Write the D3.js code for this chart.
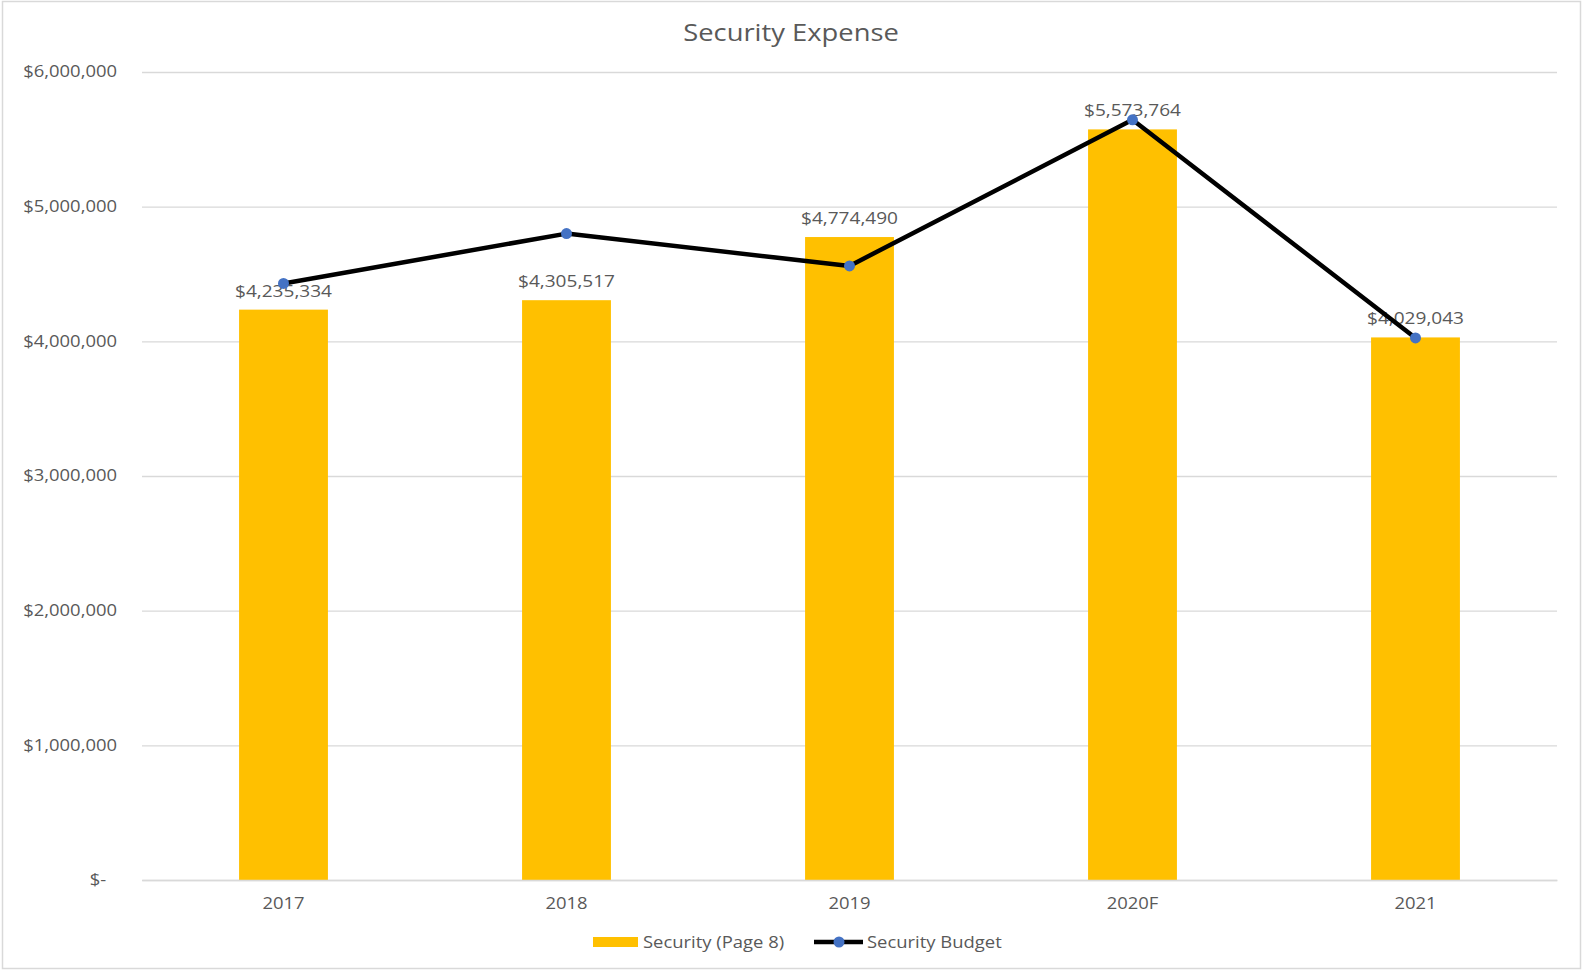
<!DOCTYPE html>
<html>
<head>
<meta charset="utf-8">
<script src="https://cdn.jsdelivr.net/npm/d3@7"></script>
<style>
  html, body { margin: 0; padding: 0; background: #fff; }
  svg { display: block; font-family: "Open Sans", "Noto Sans", sans-serif; }
</style>
</head>
<body>
<svg id="chart" width="1583" height="973"></svg>
<script>
// Security expense by year, with the budget line on top
const categories = ["2017", "2018", "2019", "2020F", "2021"];
const expenseValues = [4235334, 4305517, 4774490, 5573764, 4029043];
const budgetValues = [4430000, 4800000, 4560000, 5645000, 4025000];
const yTicks = [0, 1000000, 2000000, 3000000, 4000000, 5000000, 6000000];
const seriesNames = ["Security (Page 8)", "Security Budget"];

const W = 1583, H = 973;
const margin = { left: 142, right: 26, top: 72, bottom: 93 };
const svg = d3.select("#chart");
const textColor = "#595959";
const SX = 1.19; // horizontal widening of the label type

// widen text horizontally around its anchor point
function widen(sel) {
  sel.each(function () {
    const t = d3.select(this);
    const tx = +t.attr("x") || 0, ty = +t.attr("y") || 0;
    t.attr("x", 0).attr("y", 0)
      .attr("transform", `translate(${tx},${ty}) scale(${SX},1)`);
  });
}

// outer chart frame
svg.append("rect")
  .attr("x", 2.5).attr("y", 1.5)
  .attr("width", 1578).attr("height", 967)
  .attr("fill", "#fff").attr("stroke", "#d9d9d9").attr("stroke-width", 1.5);

const x = d3.scaleBand()
  .domain(categories)
  .range([margin.left, W - margin.right])
  .paddingInner(0.686).paddingOuter(0.343);

const y = d3.scaleLinear()
  .domain([0, 6000000])
  .range([H - margin.bottom, margin.top]);

// title
svg.append("text")
  .attr("x", 791).attr("y", 41)
  .attr("text-anchor", "middle")
  .attr("font-size", 23)
  .attr("fill", textColor)
  .text("Security Expense")
  .call(widen);

// horizontal gridlines + y labels
const fmtMoney = d3.format("$,.0f");
const yAxis = d3.axisLeft(y)
  .tickValues(yTicks)
  .tickSize(-(W - margin.left - margin.right))
  .tickPadding(25)
  .tickFormat(d => d === 0 ? "$-" : fmtMoney(d));

const gy = svg.append("g")
  .attr("transform", `translate(${margin.left},0)`)
  .call(yAxis);
gy.select(".domain").remove();
gy.selectAll(".tick line").attr("stroke", "#d9d9d9").attr("stroke-width", 1.3);
gy.selectAll(".tick text")
  .attr("fill", textColor)
  .attr("font-size", 15.5)
  .attr("font-family", "Open Sans, sans-serif")
  .call(widen);
gy.selectAll(".tick").filter(d => d === 0).select("text").attr("dx", -9);

// bars
svg.append("g").selectAll("rect")
  .data(expenseValues)
  .join("rect")
  .attr("x", (d, i) => x(categories[i]))
  .attr("width", x.bandwidth())
  .attr("y", d => y(d))
  .attr("height", d => y(0) - y(d))
  .attr("fill", "#FFC000");

// x axis baseline and labels
const xAxis = d3.axisBottom(x).tickSize(0).tickPadding(18);
const gx = svg.append("g")
  .attr("transform", `translate(0,${y(0)})`)
  .call(xAxis);
gx.select(".domain").attr("stroke", "#d9d9d9").attr("stroke-width", 1.3);
gx.selectAll(".tick text")
  .attr("fill", textColor)
  .attr("font-size", 15.5)
  .attr("font-family", "Open Sans, sans-serif")
  .call(widen);

// bar value labels
svg.append("g").selectAll("text")
  .data(expenseValues)
  .join("text")
  .attr("x", (d, i) => x(categories[i]) + x.bandwidth() / 2)
  .attr("y", d => y(d) - 13)
  .attr("text-anchor", "middle")
  .attr("font-size", 16)
  .attr("fill", textColor)
  .text(d => fmtMoney(d))
  .call(widen);

// budget line
const cx = i => x(categories[i]) + x.bandwidth() / 2;
const line = d3.line()
  .x((d, i) => cx(i))
  .y(d => y(d));
svg.append("path")
  .datum(budgetValues)
  .attr("d", line)
  .attr("fill", "none")
  .attr("stroke", "#000")
  .attr("stroke-width", 4.5)
  .attr("stroke-linejoin", "round");

svg.append("g").selectAll("circle")
  .data(budgetValues)
  .join("circle")
  .attr("cx", (d, i) => cx(i))
  .attr("cy", d => y(d))
  .attr("r", 5.5)
  .attr("fill", "#4472C4");

// legend
const lg = svg.append("g").attr("transform", "translate(0,934)");
lg.append("rect")
  .attr("x", 593).attr("y", 3)
  .attr("width", 45).attr("height", 10)
  .attr("fill", "#FFC000");
lg.append("text")
  .attr("x", 643).attr("y", 13.5)
  .attr("font-size", 15.5).attr("fill", textColor)
  .text(seriesNames[0])
  .call(widen);
lg.append("line")
  .attr("x1", 814).attr("x2", 863)
  .attr("y1", 8).attr("y2", 8)
  .attr("stroke", "#000").attr("stroke-width", 4.5);
lg.append("circle")
  .attr("cx", 839).attr("cy", 8).attr("r", 5.5)
  .attr("fill", "#4472C4");
lg.append("text")
  .attr("x", 867).attr("y", 13.5)
  .attr("font-size", 15.5).attr("fill", textColor)
  .text(seriesNames[1])
  .call(widen);
</script>
</body>
</html>
